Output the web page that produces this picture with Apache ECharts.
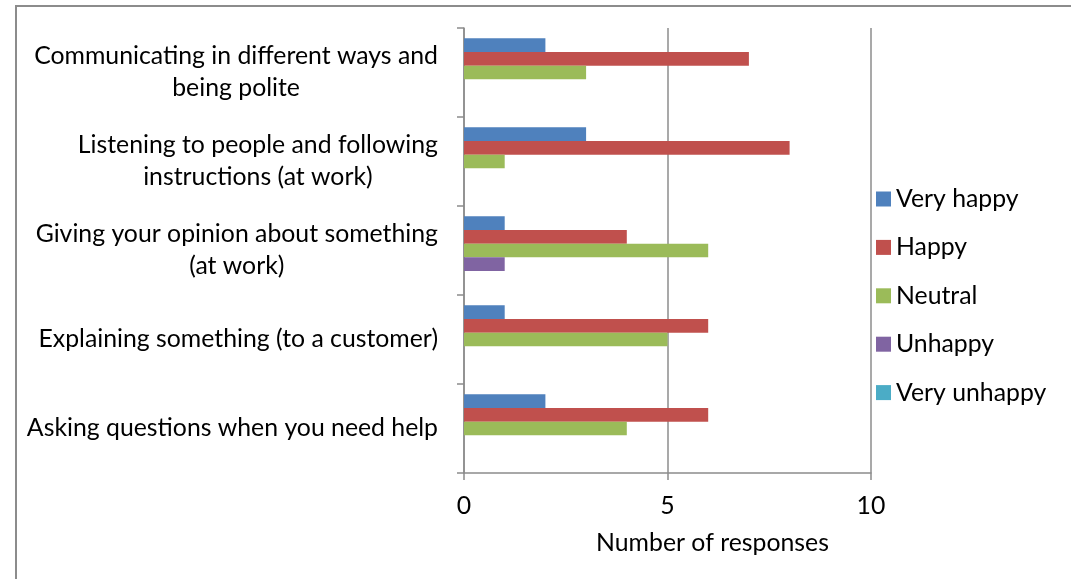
<!DOCTYPE html>
<html>
<head>
<meta charset="utf-8">
<style>
  html, body { margin: 0; padding: 0; background: #fff; }
  #chart { width: 1071px; height: 579px; }
</style>
<script src="https://cdn.jsdelivr.net/npm/echarts@6/dist/echarts.min.js"></script>
</head>
<body>
<div id="chart"></div>
<script>
// categories, top to bottom
var categories = [
    'Communicating in different ways and\nbeing polite',
    'Listening to people and following\ninstructions (at work)',
    'Giving your opinion about something\n(at work)',
    'Explaining something (to a customer)',
    'Asking questions when you need help'
];
var seriesNames = ['Very happy', 'Happy', 'Neutral', 'Unhappy', 'Very unhappy'];
var seriesColors = ['#4F81BD', '#C0504D', '#9BBB59', '#8064A2', '#4BACC6'];

var veryHappy   = [2, 3, 1, 1, 2];
var happy       = [7, 8, 4, 6, 6];
var neutral     = [3, 1, 6, 5, 4];
var unhappy     = [0, 0, 1, 0, 0];
var veryUnhappy = [0, 0, 0, 0, 0];
var seriesValues = [veryHappy, happy, neutral, unhappy, veryUnhappy];

var xTicks = [0, 5, 10];

var FONT = 'Lato';
var FS = 24.8;

var myChart = echarts.init(document.getElementById('chart'));

var series = seriesNames.map(function (name, i) {
    return {
        name: name,
        type: 'bar',
        barGap: '0%',
        barCategoryGap: '23%',
        itemStyle: { color: seriesColors[i] },
        data: seriesValues[i]
    };
});

var option = {
    animation: false,
    backgroundColor: '#fff',
    textStyle: { fontFamily: FONT },
    graphic: [{
        type: 'rect',
        shape: { x: 16, y: 6, width: 1200, height: 800 },
        style: { fill: 'none', stroke: '#8c8c8c', lineWidth: 2 },
        silent: true
    }],
    legend: {
        orient: 'vertical',
        left: 876,
        top: 184,
        padding: 0,
        itemWidth: 15,
        itemHeight: 15,
        itemGap: 18.4,
        icon: 'rect',
        selectedMode: false,
        textStyle: { fontFamily: FONT, fontSize: FS, color: '#000', lineHeight: 30 },
        data: seriesNames
    },
    grid: {
        left: 464,
        top: 28,
        width: 407,
        height: 445,
        containLabel: false
    },
    xAxis: {
        type: 'value',
        min: xTicks[0],
        max: xTicks[xTicks.length - 1],
        interval: 5,
        name: 'Number of responses',
        nameLocation: 'middle',
        nameGap: 58,
        nameTextStyle: {
            fontFamily: FONT,
            fontSize: FS,
            color: '#000',
            padding: [0, 0, 0, 90]
        },
        axisLine: { show: true, lineStyle: { color: '#8c8c8c', width: 1.5 } },
        axisTick: { show: true, length: 7, lineStyle: { color: '#8c8c8c', width: 1.5 } },
        axisLabel: { margin: 21, fontFamily: FONT, fontSize: FS, color: '#000' },
        splitLine: { show: true, lineStyle: { color: '#8c8c8c', width: 1.5 } }
    },
    yAxis: {
        type: 'category',
        inverse: true,
        data: categories,
        axisLine: { show: true, lineStyle: { color: '#8c8c8c', width: 1.5 } },
        axisTick: { show: true, length: 7, lineStyle: { color: '#8c8c8c', width: 1.5 } },
        axisLabel: {
            margin: 26,
            interval: 0,
            formatter: function (v) {
                return v.split('\n').map(function (s) { return '{c|' + s + '}'; }).join('\n');
            },
            rich: {
                c: { align: 'center', fontFamily: FONT, fontSize: FS, lineHeight: 32, color: '#000' }
            }
        },
        splitLine: { show: false }
    },
    series: series
};

myChart.setOption(option);
</script>
</body>
</html>
